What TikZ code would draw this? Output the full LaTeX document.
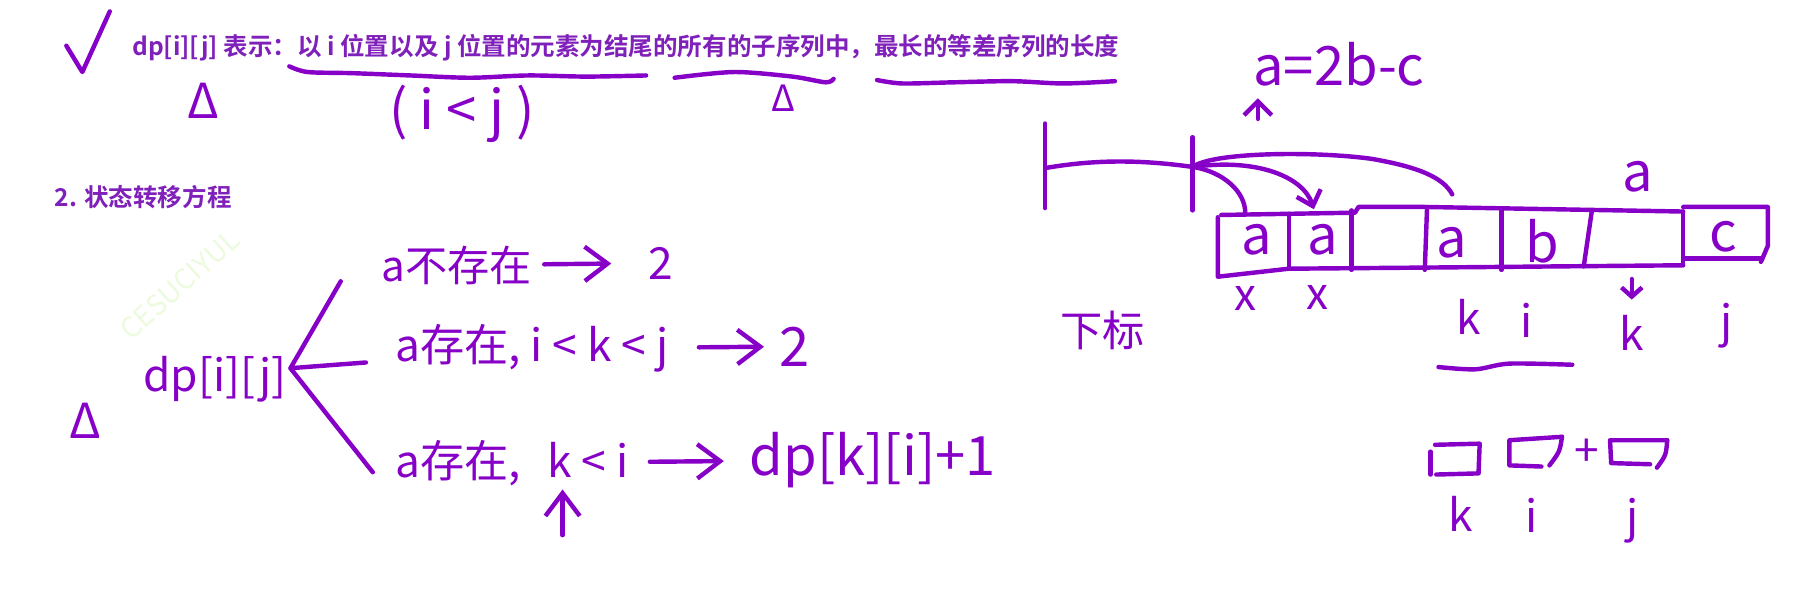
\documentclass[tikz,border=0pt]{standalone}
\usepackage{fontspec}
\setmainfont{Noto Sans CJK SC}[BoldFont={Noto Sans CJK SC Bold}]
\usepackage{tikz}
\usetikzlibrary{arrows.meta}
\definecolor{ink}{RGB}{134,0,200}
\definecolor{prt}{RGB}{128,32,186}
\definecolor{wmark}{RGB}{236,250,222}

\begin{document}
\begin{tikzpicture}[
  x=0.01cm, y=-0.01cm,
  >={Straight Barb[length=2mm,width=3mm]},
  every node/.style={inner sep=0pt},
  pen/.style={draw=ink,line width=1.1pt,line cap=round,line join=round},
  hand/.style={text=ink,font=\fontsize{11}{13}\selectfont},
  big/.style={text=ink,font=\fontsize{13.5}{15}\selectfont},
  printed/.style={text=prt,font=\fontsize{6.1}{7}\selectfont\bfseries}
]
\useasboundingbox (0,0) rectangle (1568,516);

% 定义
\draw[pen] (58,40) -- (72,63) -- (96,10);
\node[printed,anchor=west] (def) at (115,42)
  {dp[i][j] 表示：以 i 位置以及 j 位置的元素为结尾的所有的子序列中，最长的等差序列的长度};
\draw[pen] plot[smooth] coordinates
  {(253,58) (269,63) (308,64) (359,66) (411,68) (462,66) (513,67) (565,66)};
\draw[pen] plot[smooth] coordinates
  {(590,68) (642,63) (693,67) (722,72) (729,69)};
\draw[pen] plot[smooth] coordinates
  {(767,70) (789,73) (834,72) (885,71) (930,73) (975,71)};
\node[hand,font=\fontsize{12}{13}\selectfont] (tri1) at (178,88) {Δ};
\node[hand,font=\fontsize{9}{10}\selectfont] (tri2) at (685,86) {Δ};
\node[big] (ij) at (404,100) {( i < j )};

% 状态转移方程
\node[printed,anchor=west] (sec) at (47,172) {2. 状态转移方程};
\node[text=wmark,font=\fontsize{7}{8}\selectfont,rotate=42] (wm) at (157,249) {CESUCIYUL};

\node[hand,font=\fontsize{12}{13}\selectfont] (tri3) at (75,368) {Δ};
\node[hand] (dp) at (188,332) {dp[i][j]};
\coordinate (fork) at (254,322);
\coordinate (e1) at (298,246);
\coordinate (e2) at (320,317);
\coordinate (e3) at (326,413);
\draw[pen] (e1) -- (fork) -- (e2);
\draw[pen] (fork) -- (e3);

\node[hand,font=\fontsize{10.5}{12}\selectfont,anchor=west] (t1) at (333,232) {a不存在};
\node[hand] (r1) at (578,230) {2};
\draw[pen,->,shorten <=1mm,shorten >=3.2mm] (t1) -- (r1);

\node[hand,anchor=west] (t2) at (345,305) {a存在, i < k < j};
\node[big] (r2) at (695,303) {2};
\draw[pen,->,shorten <=2.6mm,shorten >=1.3mm] (t2) -- (r2);

\node[hand,anchor=west] (t3) at (345,405) {a存在,\hspace{0.6em}k < i};
\node[big,anchor=west] (r3) at (655,402) {dp[k][i]+1};
\draw[pen,->,shorten <=1.8mm,shorten >=2.2mm] (t3) -- (r3);
\coordinate (kbot) at (492,468);
\coordinate (ktop) at (492,428);
\draw[pen,->] (kbot) -- (ktop);

% 右侧数组
\node[big] (eq) at (1171,56) {a=2b-c};
\coordinate (eqbot) at (1100,104);
\coordinate (eqtop) at (1100,86);
\draw[pen,->,>={Straight Barb[length=1.2mm,width=2.4mm]}] (eqbot) -- (eqtop);

\draw[pen] (914,108) -- (914,182);
\draw[pen] (914,147) .. controls (960,139) and (1000,140) .. (1043,146);
\draw[pen] (1043,120) -- (1043,184);
\coordinate (split) at (1043,146);
\coordinate (hit1) at (1089,186);
\coordinate (hit2) at (1149,183);
\coordinate (hit3) at (1270,170);
\draw[pen] (split) .. controls (1070,150) and (1089,168) .. (hit1);
\draw[pen,->,>={Straight Barb[length=1.2mm,width=2.2mm]}]
  (split) .. controls (1100,138) and (1140,155) .. (hit2);
\draw[pen] (split) .. controls (1060,133) and (1150,132) .. (1200,139)
  .. controls (1240,146) and (1262,155) .. (hit3);

\draw[pen] (1065,190) -- (1065,242) -- (1127,235) -- (1248,234) -- (1472,232);
\draw[pen] (1068,188) -- (1185,186) -- (1188,181) -- (1246,181) -- (1472,185);
\draw[pen] (1127,187) -- (1127,235);
\draw[pen] (1182,184) -- (1182,236);
\draw[pen] (1248,181) -- (1246,236);
\draw[pen] (1313,184) -- (1313,236);
\draw[pen] (1392,185) -- (1385,233);
\draw[pen] (1472,185) -- (1472,232);
\draw[pen] (1472,181) -- (1546,181) -- (1546,215) -- (1540,229);
\draw[pen] (1472,226) -- (1541,226);

\node[big] (a1) at (1099,210) {a};
\node[big] (a2) at (1157,210) {a};
\node[big] (a3) at (1270,212) {a};
\node[big] (vb) at (1349,211) {b};
\node[big] (vc) at (1507,207) {c};
\node[big] (atop) at (1432,155) {a};

\node[hand] (x1) at (1089,261) {x};
\node[hand] (x2) at (1152,260) {x};
\node[hand] (k1) at (1284,277) {k};
\node[hand] (i1) at (1335,280) {i};
\node[hand] (k2) at (1427,291) {k};
\node[hand] (j1) at (1510,285) {j};
\coordinate (kdtop) at (1427,244);
\coordinate (kdbot) at (1427,262);
\draw[pen,->,>={Straight Barb[length=0.8mm,width=1.8mm]}] (kdtop) -- (kdbot);
\node[hand,font=\fontsize{10.5}{12}\selectfont] (idx) at (964,289) {下标};
\draw[pen] plot[smooth] coordinates {(1258,321) (1290,323) (1320,318) (1375,319)};

% 三个格子
\draw[pen] (1251,395) -- (1251,415);
\draw[pen] (1255,389) -- (1294,388) -- (1293,414) -- (1256,415);
\draw[pen] (1366,382) -- (1320,385) -- (1320,407) -- (1348,408);
\draw[pen] (1366,382) .. controls (1364,395) .. (1355,407);
\node[hand] (plus) at (1388,396) {+};
\draw[pen] (1458,385) -- (1408,385) -- (1409,405) -- (1443,406);
\draw[pen] (1458,385) .. controls (1457,398) .. (1449,409);
\node[hand] (k3) at (1277,449) {k};
\node[hand] (i3) at (1339,451) {i};
\node[hand] (j3) at (1428,455) {j};
\end{tikzpicture}
\end{document}
